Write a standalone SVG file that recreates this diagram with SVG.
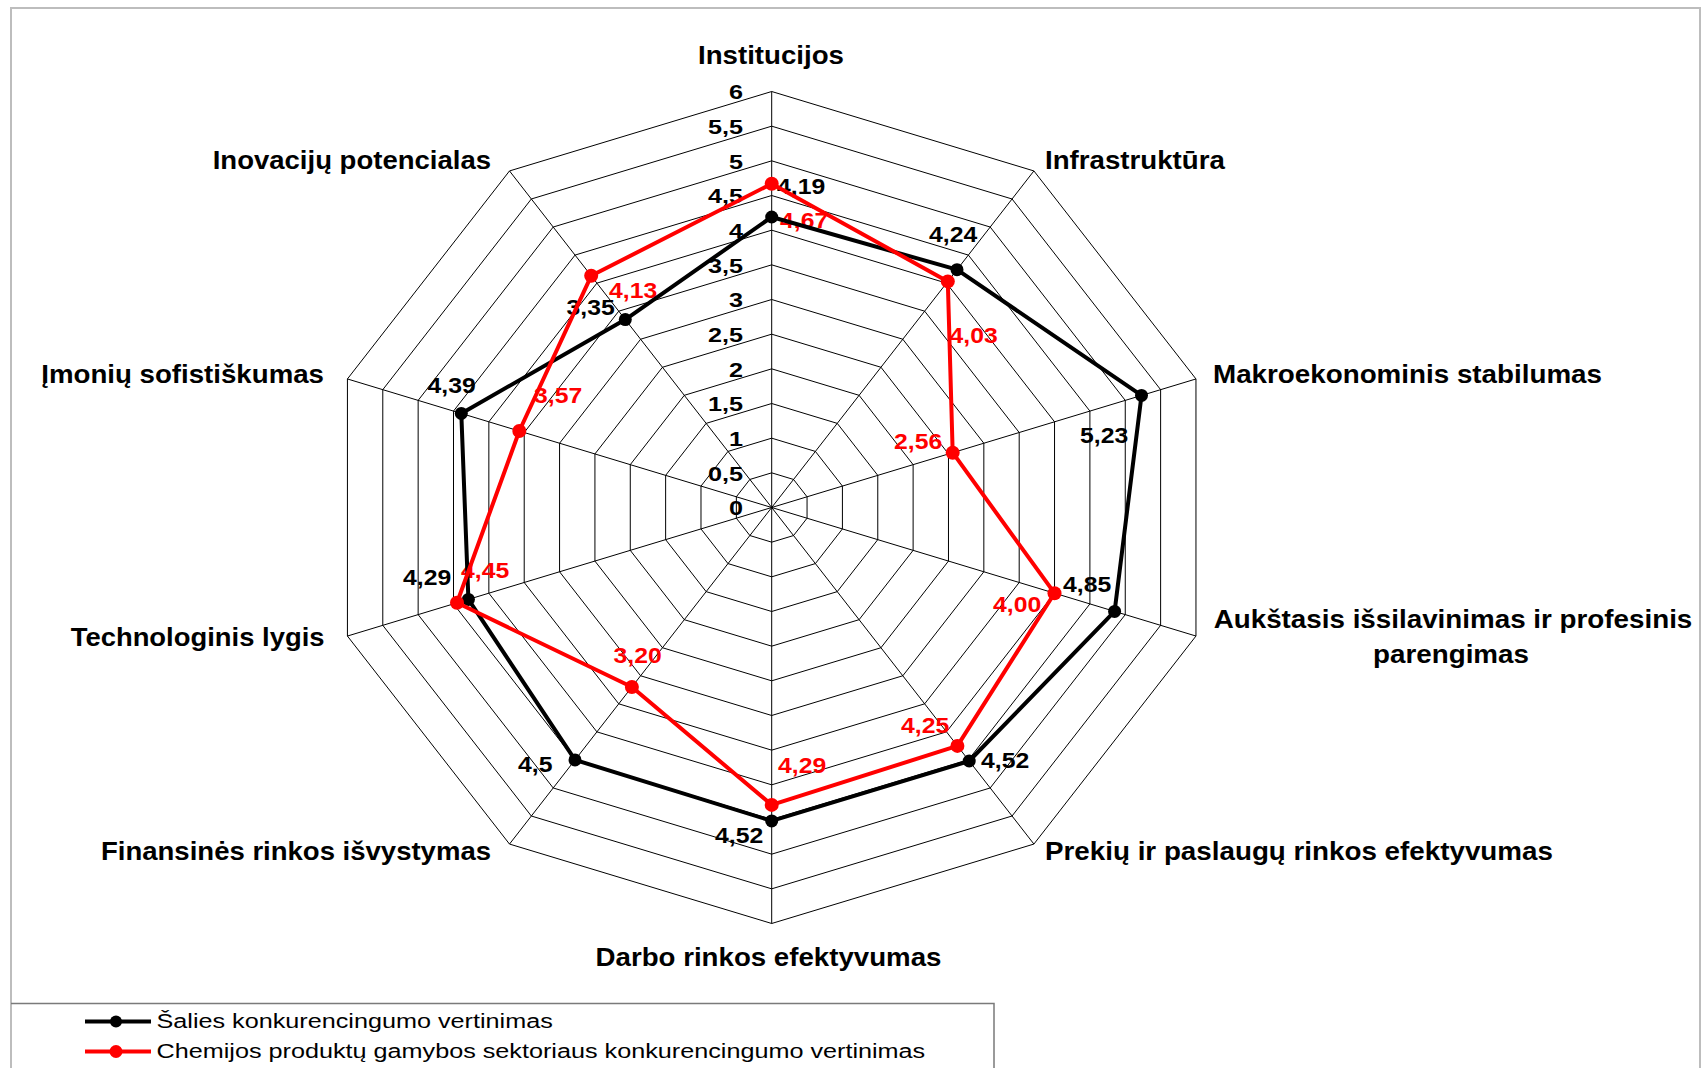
<svg xmlns="http://www.w3.org/2000/svg" xmlns:xlink="http://www.w3.org/1999/xlink" width="1702" height="1068" viewBox="0 0 1702 1068">
<defs>
<style>
.ring{fill:none;stroke:#000;stroke-width:1;vector-effect:non-scaling-stroke}
.spoke{stroke:#000;stroke-width:1}
.tick{font-family:"Liberation Sans",Arial,sans-serif;font-weight:bold;font-size:21px;fill:#000;text-anchor:end}
.cat{font-family:"Liberation Sans",Arial,sans-serif;font-weight:bold;font-size:25.5px;fill:#000}
.val{font-family:"Liberation Sans",Arial,sans-serif;font-weight:bold;font-size:22.5px}
.vb{fill:#000}
.vr{fill:#f00}
.lb{fill:none;stroke:#000;stroke-width:4;stroke-linejoin:round}
.lr{fill:none;stroke:#f00;stroke-width:4;stroke-linejoin:round}
.mb{fill:#000}
.mr{fill:#f00}
.leg{font-family:"Liberation Sans",Arial,sans-serif;font-size:21px;fill:#000}
</style>
</defs>
<rect x="0" y="0" width="1702" height="1068" fill="#fff"/>
<rect x="11" y="8" width="1689" height="1080" fill="#fff" stroke="#bdbdbd" stroke-width="2"/>

<g id="grid">
<polygon class="ring" points="0,-69.333 43.702,-56.092 70.711,-21.425 70.711,21.425 43.702,56.092 0,69.333 -43.702,56.092 -70.711,21.425 -70.711,-21.425 -43.702,-56.092" transform="translate(771.7 507.5) scale(0.5)"/>
<polygon class="ring" points="0,-69.333 43.702,-56.092 70.711,-21.425 70.711,21.425 43.702,56.092 0,69.333 -43.702,56.092 -70.711,21.425 -70.711,-21.425 -43.702,-56.092" transform="translate(771.7 507.5) scale(1)"/>
<polygon class="ring" points="0,-69.333 43.702,-56.092 70.711,-21.425 70.711,21.425 43.702,56.092 0,69.333 -43.702,56.092 -70.711,21.425 -70.711,-21.425 -43.702,-56.092" transform="translate(771.7 507.5) scale(1.5)"/>
<polygon class="ring" points="0,-69.333 43.702,-56.092 70.711,-21.425 70.711,21.425 43.702,56.092 0,69.333 -43.702,56.092 -70.711,21.425 -70.711,-21.425 -43.702,-56.092" transform="translate(771.7 507.5) scale(2)"/>
<polygon class="ring" points="0,-69.333 43.702,-56.092 70.711,-21.425 70.711,21.425 43.702,56.092 0,69.333 -43.702,56.092 -70.711,21.425 -70.711,-21.425 -43.702,-56.092" transform="translate(771.7 507.5) scale(2.5)"/>
<polygon class="ring" points="0,-69.333 43.702,-56.092 70.711,-21.425 70.711,21.425 43.702,56.092 0,69.333 -43.702,56.092 -70.711,21.425 -70.711,-21.425 -43.702,-56.092" transform="translate(771.7 507.5) scale(3)"/>
<polygon class="ring" points="0,-69.333 43.702,-56.092 70.711,-21.425 70.711,21.425 43.702,56.092 0,69.333 -43.702,56.092 -70.711,21.425 -70.711,-21.425 -43.702,-56.092" transform="translate(771.7 507.5) scale(3.5)"/>
<polygon class="ring" points="0,-69.333 43.702,-56.092 70.711,-21.425 70.711,21.425 43.702,56.092 0,69.333 -43.702,56.092 -70.711,21.425 -70.711,-21.425 -43.702,-56.092" transform="translate(771.7 507.5) scale(4)"/>
<polygon class="ring" points="0,-69.333 43.702,-56.092 70.711,-21.425 70.711,21.425 43.702,56.092 0,69.333 -43.702,56.092 -70.711,21.425 -70.711,-21.425 -43.702,-56.092" transform="translate(771.7 507.5) scale(4.5)"/>
<polygon class="ring" points="0,-69.333 43.702,-56.092 70.711,-21.425 70.711,21.425 43.702,56.092 0,69.333 -43.702,56.092 -70.711,21.425 -70.711,-21.425 -43.702,-56.092" transform="translate(771.7 507.5) scale(5)"/>
<polygon class="ring" points="0,-69.333 43.702,-56.092 70.711,-21.425 70.711,21.425 43.702,56.092 0,69.333 -43.702,56.092 -70.711,21.425 -70.711,-21.425 -43.702,-56.092" transform="translate(771.7 507.5) scale(5.5)"/>
<polygon class="ring" points="0,-69.333 43.702,-56.092 70.711,-21.425 70.711,21.425 43.702,56.092 0,69.333 -43.702,56.092 -70.711,21.425 -70.711,-21.425 -43.702,-56.092" transform="translate(771.7 507.5) scale(6)"/>
<line class="spoke" x1="771.7" y1="507.5" x2="771.7" y2="91.5"/>
<line class="spoke" x1="771.7" y1="507.5" x2="1033.9" y2="170.95"/>
<line class="spoke" x1="771.7" y1="507.5" x2="1196" y2="378.95"/>
<line class="spoke" x1="771.7" y1="507.5" x2="1196" y2="636.05"/>
<line class="spoke" x1="771.7" y1="507.5" x2="1033.9" y2="844.05"/>
<line class="spoke" x1="771.7" y1="507.5" x2="771.7" y2="923.5"/>
<line class="spoke" x1="771.7" y1="507.5" x2="509.5" y2="844.05"/>
<line class="spoke" x1="771.7" y1="507.5" x2="347.4" y2="636.05"/>
<line class="spoke" x1="771.7" y1="507.5" x2="347.4" y2="378.95"/>
<line class="spoke" x1="771.7" y1="507.5" x2="509.5" y2="170.95"/>
</g>

<g id="axis-labels">
<text class="tick" transform="translate(743 515.2) scale(1.2 1)">0</text>
<text class="tick" transform="translate(743 480.5) scale(1.2 1)">0,5</text>
<text class="tick" transform="translate(743 445.9) scale(1.2 1)">1</text>
<text class="tick" transform="translate(743 411.2) scale(1.2 1)">1,5</text>
<text class="tick" transform="translate(743 376.5) scale(1.2 1)">2</text>
<text class="tick" transform="translate(743 341.9) scale(1.2 1)">2,5</text>
<text class="tick" transform="translate(743 307.2) scale(1.2 1)">3</text>
<text class="tick" transform="translate(743 272.5) scale(1.2 1)">3,5</text>
<text class="tick" transform="translate(743 237.9) scale(1.2 1)">4</text>
<text class="tick" transform="translate(743 203.2) scale(1.2 1)">4,5</text>
<text class="tick" transform="translate(743 168.5) scale(1.2 1)">5</text>
<text class="tick" transform="translate(743 133.9) scale(1.2 1)">5,5</text>
<text class="tick" transform="translate(743 99.2) scale(1.2 1)">6</text>
</g>

<g id="cat-institucijos"><text class="cat" text-anchor="middle" transform="translate(771 64.3) scale(1.085 1)">Institucijos</text></g>
<g id="cat-infrastruktura"><text class="cat" transform="translate(1045 168.6) scale(1.085 1)">Infrastruktūra</text></g>
<g id="cat-makro"><text class="cat" transform="translate(1213 382.7) scale(1.09 1)">Makroekonominis stabilumas</text></g>
<g id="cat-aukstasis">
<text class="cat" text-anchor="middle" transform="translate(1453 628.3) scale(1.09 1)">Aukštasis išsilavinimas ir profesinis</text>
<text class="cat" text-anchor="middle" transform="translate(1451 663.3) scale(1.09 1)">parengimas</text>
</g>
<g id="cat-prekiu"><text class="cat" transform="translate(1045 860) scale(1.09 1)">Prekių ir paslaugų rinkos efektyvumas</text></g>
<g id="cat-darbo"><text class="cat" text-anchor="middle" transform="translate(768.5 966.3) scale(1.085 1)">Darbo rinkos efektyvumas</text></g>
<g id="cat-finansines"><text class="cat" text-anchor="end" transform="translate(491 860) scale(1.08 1)">Finansinės rinkos išvystymas</text></g>
<g id="cat-technologinis"><text class="cat" text-anchor="end" transform="translate(324.5 646) scale(1.075 1)">Technologinis lygis</text></g>
<g id="cat-imoniu"><text class="cat" text-anchor="end" transform="translate(324 382.7) scale(1.085 1)">Įmonių sofistiškumas</text></g>
<g id="cat-inovaciju"><text class="cat" text-anchor="end" transform="translate(491 168.6) scale(1.08 1)">Inovacijų potencialas</text></g>

<g id="data-labels">
<text class="val vb" transform="translate(777 194.3) scale(1.1 1)">4,19</text>
<text class="val vr" transform="translate(780 227.5) scale(1.1 1)">4,67</text>
<text class="val vb" transform="translate(929 241.7) scale(1.1 1)">4,24</text>
<text class="val vr" transform="translate(949.5 343.3) scale(1.1 1)">4,03</text>
<text class="val vb" transform="translate(1080 442.7) scale(1.1 1)">5,23</text>
<text class="val vr" transform="translate(894 449.3) scale(1.1 1)">2,56</text>
<text class="val vb" transform="translate(1063 591.7) scale(1.1 1)">4,85</text>
<text class="val vr" transform="translate(993 611.5) scale(1.1 1)">4,00</text>
<text class="val vb" transform="translate(981 768.3) scale(1.1 1)">4,52</text>
<text class="val vr" transform="translate(901 733.3) scale(1.1 1)">4,25</text>
<text class="val vr" transform="translate(778 772.7) scale(1.1 1)">4,29</text>
<text class="val vb" transform="translate(715 843.3) scale(1.1 1)">4,52</text>
<text class="val vb" transform="translate(518 772) scale(1.1 1)">4,5</text>
<text class="val vr" transform="translate(613.5 662.7) scale(1.1 1)">3,20</text>
<text class="val vb" transform="translate(403 585) scale(1.1 1)">4,29</text>
<text class="val vr" transform="translate(461 578.3) scale(1.1 1)">4,45</text>
<text class="val vb" transform="translate(427.5 393.3) scale(1.1 1)">4,39</text>
<text class="val vr" transform="translate(534 403.3) scale(1.1 1)">3,57</text>
<text class="val vb" transform="translate(566.5 315) scale(1.1 1)">3,35</text>
<text class="val vr" transform="translate(609 298.3) scale(1.1 1)">4,13</text>
</g>

<g id="connectors">
<g id="series-black">
<polygon class="lb" points="771.7,217 957,269.7 1141.5,395.4 1114.6,611.4 969.2,761 771.7,820.9 575,759.9 468.4,599.4 461.3,413.4 625.3,319.6"/>
<circle class="mb" cx="771.7" cy="217" r="6.5"/>
<circle class="mb" cx="957" cy="269.7" r="6.5"/>
<circle class="mb" cx="1141.5" cy="395.4" r="6.5"/>
<circle class="mb" cx="1114.6" cy="611.4" r="6.5"/>
<circle class="mb" cx="969.2" cy="761" r="6.5"/>
<circle class="mb" cx="771.7" cy="820.9" r="6.5"/>
<circle class="mb" cx="575" cy="759.9" r="6.5"/>
<circle class="mb" cx="468.4" cy="599.4" r="6.5"/>
<circle class="mb" cx="461.3" cy="413.4" r="6.5"/>
<circle class="mb" cx="625.3" cy="319.6" r="6.5"/>
</g>
<g id="series-red">
<polygon class="lr" points="771.7,183.7 947.8,281.4 952.7,452.7 1054.5,593.2 957.4,745.9 771.7,804.9 631.9,687 457,602.8 519.3,431 591.2,275.8"/>
<circle class="mr" cx="771.7" cy="183.7" r="7"/>
<circle class="mr" cx="947.8" cy="281.4" r="7"/>
<circle class="mr" cx="952.7" cy="452.7" r="7"/>
<circle class="mr" cx="1054.5" cy="593.2" r="7"/>
<circle class="mr" cx="957.4" cy="745.9" r="7"/>
<circle class="mr" cx="771.7" cy="804.9" r="7"/>
<circle class="mr" cx="631.9" cy="687" r="7"/>
<circle class="mr" cx="457" cy="602.8" r="7"/>
<circle class="mr" cx="519.3" cy="431" r="7"/>
<circle class="mr" cx="591.2" cy="275.8" r="7"/>
</g>
</g>

<g id="legend">
<polyline points="11,1003.5 994,1003.5 994,1068" fill="none" stroke="#7a7a7a" stroke-width="1.5"/>
<line x1="85" y1="1021.5" x2="151" y2="1021.5" stroke="#000" stroke-width="4"/>
<circle cx="116" cy="1021.5" r="6" fill="#000"/>
<text class="leg" transform="translate(156.5 1027.5) scale(1.2 1)">Šalies konkurencingumo vertinimas</text>
<line x1="85" y1="1051.5" x2="151" y2="1051.5" stroke="#f00" stroke-width="4"/>
<circle cx="116" cy="1051.5" r="6.5" fill="#f00"/>
<text class="leg" transform="translate(156.5 1058.3) scale(1.2 1)">Chemijos produktų gamybos sektoriaus konkurencingumo vertinimas</text>
</g>
</svg>
